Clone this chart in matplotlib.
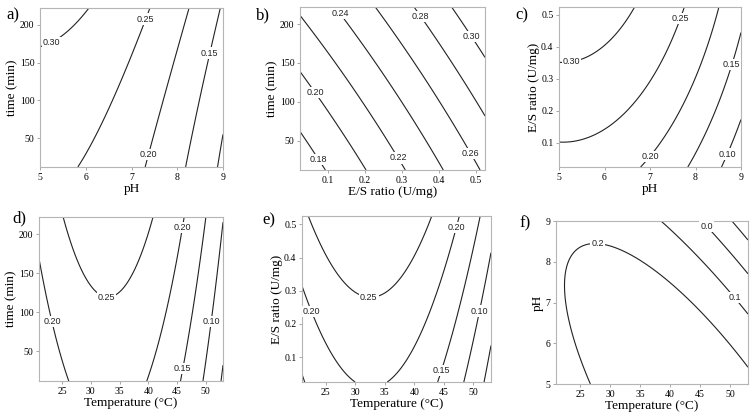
import numpy as np
import matplotlib
matplotlib.use('Agg')
import matplotlib.pyplot as plt

# factor ranges (centre, half-width) used for coded units
temp_range = (37, 16)
ph_range = (7, 2)
time_range = (117, 105)
es_range = (0.275, 0.25)

# quadratic response surface coefficients in coded units:
# b0, b1 (x), b2 (y), b11 (x^2), b22 (y^2), b12 (xy)
coef_a = [0.2384, -0.0849, 0.0276, -0.0383, 0.0027, -0.0002]   # pH vs time
coef_b = [0.2398, 0.0475, 0.0277, 0.0019, 0.0013, 0.0001]      # E/S vs time
coef_c = [0.2466, -0.0827, 0.0477, -0.0433, -0.0070, 0.0002]   # pH vs E/S
coef_d = [0.2423, -0.0563, 0.0284, -0.1122, -0.0009, 0.0004]   # temp vs time
coef_e = [0.2410, -0.0588, 0.0460, -0.1073, 0.0004, -0.0013]   # temp vs E/S
coef_f = [0.2422, -0.0552, -0.0829, -0.1136, -0.0428, -0.1105] # temp vs pH

levels_a = [0.10, 0.15, 0.20, 0.25, 0.30]
levels_b = [0.18, 0.20, 0.22, 0.24, 0.26, 0.28, 0.30]
levels_c = [0.10, 0.15, 0.20, 0.25, 0.30]
levels_d = [0.05, 0.10, 0.15, 0.20, 0.25]
levels_e = [0.05, 0.10, 0.15, 0.20, 0.25]
levels_f = [-0.1, 0.0, 0.1, 0.2]

ticks_ph = [5, 6, 7, 8, 9]
ticks_time = [50, 100, 150, 200]
ticks_es = [0.1, 0.2, 0.3, 0.4, 0.5]
ticks_temp = [25, 30, 35, 40, 45, 50]

serif = 'Liberation Serif'

def draw_panel(rect, letter, letter_xy, xr, yr, coef, levels, fmt, xlabel, ylabel, xticks, yticks, label_pos):
    ax = fig.add_axes(rect)
    x = np.linspace(xr[0] - xr[1], xr[0] + xr[1], 300)
    y = np.linspace(yr[0] - yr[1], yr[0] + yr[1], 300)
    X, Y = np.meshgrid(x, y)
    U = (X - xr[0]) / xr[1]
    V = (Y - yr[0]) / yr[1]
    b = coef
    Z = b[0] + b[1]*U + b[2]*V + b[3]*U**2 + b[4]*V**2 + b[5]*U*V
    cs = ax.contour(X, Y, Z, levels=levels, colors='#222222', linewidths=0.8,
                    negative_linestyles='solid')
    texts = ax.clabel(cs, fmt=fmt, fontsize=6.5, inline=False, manual=label_pos)
    for t in texts:
        t.set_rotation(0)
        t.set_family('Liberation Sans')
        t.set_color('#222222')
        t.set_bbox(dict(facecolor='white', edgecolor='none', pad=0.8))
    ax.set_xlim(x[0], x[-1])
    ax.set_ylim(y[0], y[-1])
    ax.set_xticks(xticks)
    ax.set_yticks(yticks)
    ax.tick_params(length=2.5, width=0.6, color='#999999', labelsize=7, pad=1.5)
    for lab in ax.get_xticklabels() + ax.get_yticklabels():
        lab.set_family(serif)
    for sp in ax.spines.values():
        sp.set_color('#b5b5b5')
        sp.set_linewidth(0.8)
    ax.set_xlabel(xlabel, family=serif, fontsize=9.5, labelpad=1)
    ax.set_ylabel(ylabel, family=serif, fontsize=9.5, labelpad=1)
    fig.text(letter_xy[0] / 754, 1 - letter_xy[1] / 418, letter, family=serif,
             fontsize=12, va='center')
    return ax


def rect(l, r, t, btm):
    return [l / 754, 1 - btm / 418, (r - l) / 754, (btm - t) / 418]


fig = plt.figure(figsize=(7.54, 4.18), dpi=100)

draw_panel(rect(40, 223, 8, 167), 'a)', (6, 15), ph_range, time_range, coef_a, levels_a, '%.2f',
           'pH', 'time (min)', ticks_ph, ticks_time,
           [(5.25, 177), (7.33, 207), (7.38, 28), (8.75, 162)])
draw_panel(rect(300, 485, 7, 170), 'b)', (256, 15), es_range, time_range, coef_b, levels_b, '%.2f',
           'E/S ratio (U/mg)', 'time (min)', ticks_es, ticks_time,
           [(0.075, 26), (0.062, 111), (0.285, 26), (0.129, 212), (0.487, 33), (0.348, 209), (0.487, 184)])
draw_panel(rect(559, 741, 7, 167), 'c)', (515, 15), ph_range, es_range, coef_c, levels_c, '%.2f',
           'pH', 'E/S ratio (U/mg)', ticks_ph, ticks_es,
           [(5.27, 0.355), (7.64, 0.49), (7.0, 0.059), (8.73, 0.348), (8.69, 0.066)])
draw_panel(rect(39, 223, 217, 381), 'd)', (12, 218), temp_range, time_range, coef_d, levels_d, '%.2f',
           'Temperature (°C)', 'time (min)', ticks_temp, ticks_time,
           [(23.4, 88), (32.8, 122), (46, 208), (46, 28), (50.9, 88)])
draw_panel(rect(302, 491, 216, 382), 'e)', (262, 220), temp_range, es_range, coef_e, levels_e, '%.2f',
           'Temperature (°C)', 'E/S ratio (U/mg)', ticks_temp, ticks_es,
           [(23.1, 0.24), (32.3, 0.281), (47.2, 0.49), (44.4, 0.06), (50.7, 0.24)])
draw_panel(rect(556, 748, 221, 384), 'f)', (519, 223), temp_range, ph_range, coef_f, levels_f, '%.1f',
           'Temperature (°C)', 'pH', ticks_temp, ticks_ph,
           [(27.9, 8.44), (46.2, 8.89), (50.8, 7.13)])

fig.savefig('out.png', dpi=100)
